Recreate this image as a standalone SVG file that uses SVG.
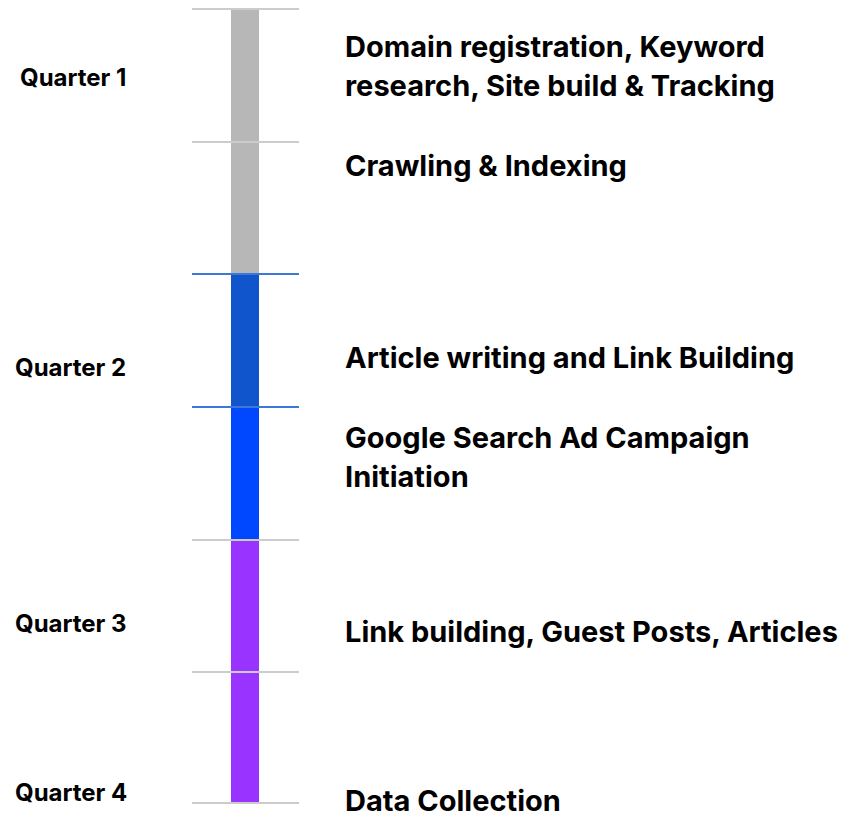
<svg xmlns="http://www.w3.org/2000/svg" width="848" height="815" viewBox="0 0 848 815">
  <style>
    .q { font-family: Inter, "Liberation Sans", sans-serif; font-weight: 700; font-size: 24px; fill: #000; }
    .t { font-family: Inter, "Liberation Sans", sans-serif; font-weight: 700; font-size: 29px; fill: #000; }
    .tick { stroke: #cccccc; stroke-width: 2; }
    .tickb { stroke: #3c78d8; stroke-width: 2; }
  </style>
  <rect width="848" height="815" fill="#ffffff"/>

  <!-- timeline bar segments -->
  <g id="bar">
    <rect x="231" y="9" width="28" height="265" fill="#b7b7b7"/>
    <rect x="231" y="274" width="28" height="133" fill="#1155cc"/>
    <rect x="231" y="407" width="28" height="133" fill="#0048ff"/>
    <rect x="231" y="540" width="28" height="263" fill="#9933ff"/>
  </g>

  <!-- tick marks -->
  <g id="ticks">
    <line class="tick" x1="192" y1="9" x2="299" y2="9"/>
    <line class="tick" x1="192" y1="142" x2="299" y2="142"/>
    <line class="tickb" x1="192" y1="274" x2="299" y2="274"/>
    <line class="tickb" x1="192" y1="407" x2="299" y2="407"/>
    <line class="tick" x1="192" y1="540" x2="299" y2="540"/>
    <line class="tick" x1="192" y1="672" x2="299" y2="672"/>
    <line class="tick" x1="192" y1="803" x2="299" y2="803"/>
  </g>

  <!-- quarter labels -->
  <g id="quarters">
    <text class="q" x="20" y="86">Quarter 1</text>
    <text class="q" x="15" y="376">Quarter 2</text>
    <text class="q" x="15" y="632">Quarter 3</text>
    <text class="q" x="15" y="801">Quarter 4</text>
  </g>

  <!-- milestones -->
  <g id="m1"><text class="t" x="345" y="57">Domain registration, Keyword</text><text class="t" x="345" y="96">research, Site build &amp; Tracking</text></g>
  <g id="m2"><text class="t" x="345" y="176">Crawling &amp; Indexing</text></g>
  <g id="m3"><text class="t" x="345" y="368">Article writing and Link Building</text></g>
  <g id="m4"><text class="t" x="345" y="448">Google Search Ad Campaign</text><text class="t" x="345" y="487">Initiation</text></g>
  <g id="m5"><text class="t" x="345" y="642">Link building, Guest Posts, Articles</text></g>
  <g id="m6"><text class="t" x="345" y="811">Data Collection</text></g>
</svg>
